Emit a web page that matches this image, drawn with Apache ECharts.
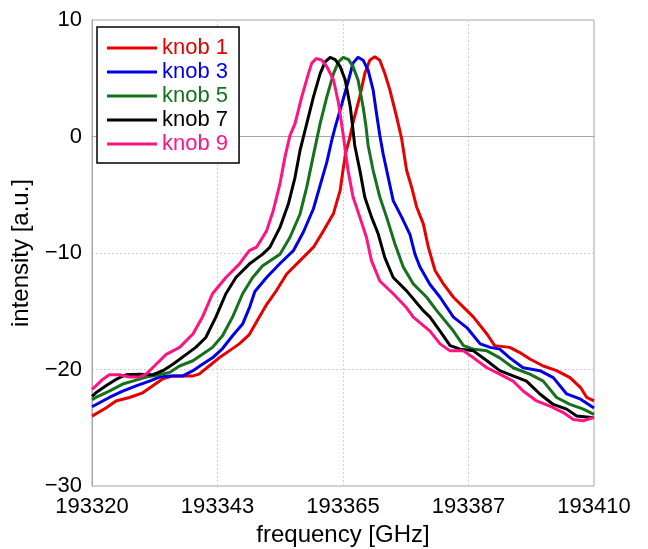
<!DOCTYPE html>
<html>
<head>
<meta charset="utf-8">
<script src="https://cdn.jsdelivr.net/npm/echarts@6/dist/echarts.min.js"></script>
<style>
  html, body { margin: 0; padding: 0; background: #fff; }
  #chart { width: 648px; height: 549px; }
</style>
</head>
<body>
<div id="chart"></div>
<script>
// axis setup
const xMin = 193320;
const xMax = 193410;
const xStep = 22.5;
const xTickLabels = ["193320", "193343", "193365", "193387", "193410"];
const yMin = -30;
const yMax = 10;
const yStep = 10;

const seriesNames = ["knob 1", "knob 3", "knob 5", "knob 7", "knob 9"];
const seriesColors = ["#e60000", "#0000e6", "#16701e", "#000000", "#ff1482"];

// [frequency GHz, intensity a.u.]
const knob1 = [
  [193320, -24.0], [193322.5, -23.3], [193324.3, -22.7], [193326.7, -22.4], [193329.1, -22.0],
  [193330.9, -21.4], [193332.7, -20.8], [193334.5, -20.55], [193336.3, -20.55], [193338.1, -20.55],
  [193339.2, -20.4], [193341.0, -19.7], [193342.8, -19.0], [193344.6, -18.4], [193346.4, -17.8],
  [193348.2, -17.0], [193350.0, -15.5], [193351.2, -14.5], [193353.1, -13.2], [193354.9, -11.8],
  [193357.3, -10.65], [193359.7, -9.5], [193361.5, -8.1], [193363.3, -6.6], [193364.5, -4.6],
  [193365.0, -2.9], [193365.5, -1.35], [193366.2, -0.15], [193366.8, 1.2], [193368.0, 3.4],
  [193368.9, 5.4], [193369.8, 6.55], [193370.7, 6.85], [193371.6, 6.55], [193372.5, 5.4],
  [193373.4, 4.0], [193374.6, 1.7], [193375.5, -0.15], [193376.4, -2.9], [193377.3, -4.35],
  [193378.2, -6.05], [193379.4, -7.5], [193380.3, -9.5], [193381.5, -11.5], [193383.0, -12.65],
  [193384.8, -13.8], [193386.9, -14.8], [193388.4, -15.5], [193390.8, -16.95], [193392.2, -17.95],
  [193394.9, -18.1], [193396.7, -18.55], [193398.5, -19.1], [193400.9, -19.7], [193403.3, -20.1],
  [193405.7, -20.7], [193407.6, -21.55], [193408.7, -22.4], [193410, -22.7]
];

const knob3 = [
  [193320, -23.2], [193323.1, -22.4], [193325.5, -21.85], [193327.9, -21.4], [193330.3, -21.0],
  [193332.1, -20.65], [193333.9, -20.55], [193336.3, -20.55], [193338.1, -20.1], [193339.8, -19.55],
  [193341.6, -19.0], [193343.4, -18.2], [193345.2, -17.1], [193347.0, -16.1], [193348.3, -14.6],
  [193349.2, -13.3], [193351.3, -12.1], [193353.7, -10.9], [193356.1, -9.8], [193357.9, -8.2],
  [193359.7, -6.2], [193360.9, -4.2], [193362.1, -2.2], [193363.0, -0.3], [193363.6, 0.8],
  [193364.8, 2.8], [193366.0, 4.85], [193366.8, 6.3], [193367.7, 6.8], [193368.6, 6.55],
  [193369.5, 5.7], [193370.4, 4.0], [193371.0, 2.0], [193371.6, 0.1], [193372.2, -1.5],
  [193373.1, -3.5], [193374.0, -5.5], [193375.5, -6.9], [193377.0, -8.4], [193377.9, -10.1],
  [193378.8, -11.2], [193380.6, -12.7], [193382.4, -13.8], [193384.8, -15.5], [193387.2, -16.4],
  [193389.6, -17.8], [193391.4, -18.1], [193393.1, -18.25], [193394.9, -19.0], [193397.3, -19.85],
  [193400.3, -20.1], [193402.7, -20.7], [193405.1, -22.1], [193407.6, -22.55], [193410, -23.3]
];

const knob5 = [
  [193320, -22.6], [193320.7, -22.4], [193323.1, -21.85], [193325.5, -21.25], [193327.3, -21.0],
  [193329.7, -20.65], [193332.1, -20.45], [193333.9, -20.25], [193335.7, -19.7], [193338.1, -19.25],
  [193339.8, -18.7], [193341.6, -18.1], [193343.4, -17.1], [193345.2, -15.5], [193347.0, -13.5],
  [193348.8, -12.1], [193350.6, -11.1], [193353.7, -10.1], [193355.5, -8.65], [193357.3, -6.65],
  [193358.5, -4.35], [193359.7, -1.6], [193360.9, 1.1], [193362.1, 3.4], [193363.3, 5.4],
  [193364.2, 6.4], [193365.05, 6.8], [193366.0, 6.6], [193366.8, 6.0], [193367.7, 4.85],
  [193368.6, 2.55], [193369.1, 0.95], [193369.5, -0.75], [193370.4, -2.9], [193371.6, -5.2],
  [193372.8, -6.9], [193374.3, -9.2], [193375.8, -11.2], [193377.6, -12.65], [193380.0, -13.8],
  [193381.8, -14.95], [193384.8, -16.7], [193386.6, -17.95], [193388.4, -18.25], [193390.8, -18.4],
  [193393.1, -19.0], [193395.5, -19.85], [193398.5, -20.4], [193400.9, -21.0], [193403.3, -22.4],
  [193405.7, -23.0], [193408.1, -23.4], [193410, -23.85]
];

const knob7 = [
  [193320, -22.3], [193320.7, -22.0], [193322.5, -21.4], [193324.3, -20.85], [193326.1, -20.45],
  [193328.5, -20.4], [193330.9, -20.45], [193332.7, -20.1], [193334.5, -19.55], [193336.9, -18.7],
  [193338.6, -18.1], [193340.4, -17.25], [193342.2, -15.5], [193344.0, -13.5], [193345.8, -12.1],
  [193348.2, -10.95], [193350.6, -10.1], [193351.9, -9.5], [193353.7, -7.8], [193355.2, -5.8],
  [193356.4, -3.5], [193357.3, -1.2], [193358.5, 1.1], [193359.7, 3.4], [193360.9, 5.4],
  [193361.8, 6.4], [193362.7, 6.8], [193363.6, 6.6], [193364.5, 6.0], [193365.4, 4.85],
  [193366.3, 2.55], [193366.7, 0.95], [193367.1, -0.75], [193368.1, -3.1], [193368.9, -5.2],
  [193370.1, -6.9], [193371.3, -8.35], [193372.5, -10.4], [193374.0, -12.1], [193376.4, -13.25],
  [193379.4, -14.95], [193380.6, -15.5], [193382.4, -16.7], [193384.2, -17.95], [193386.0, -18.25],
  [193388.4, -18.4], [193390.8, -19.25], [193393.1, -20.1], [193395.5, -20.55], [193397.9, -21.0],
  [193400.3, -22.1], [193402.7, -23.0], [193405.1, -23.4], [193406.9, -24.0], [193410, -24.15]
];

const knob9 = [
  [193320, -21.7], [193320.7, -21.4], [193321.9, -20.85], [193323.1, -20.45], [193324.9, -20.45],
  [193326.7, -20.65], [193328.5, -20.65], [193329.7, -20.4], [193331.5, -19.55], [193333.3, -18.7],
  [193335.7, -18.1], [193338.1, -16.95], [193339.8, -15.5], [193341.6, -13.5], [193344.0, -12.1],
  [193346.4, -10.95], [193348.2, -9.8], [193349.5, -9.5], [193351.3, -8.1], [193352.5, -6.35],
  [193353.7, -4.05], [193354.6, -1.75], [193355.5, 0.1], [193356.4, 1.1], [193357.6, 3.4],
  [193358.8, 5.4], [193359.4, 6.3], [193360.2, 6.7], [193361.2, 6.55], [193362.1, 6.0],
  [193363.3, 4.85], [193364.2, 2.85], [193365.05, 0.1], [193365.9, -2.9], [193366.8, -5.2],
  [193368.0, -6.9], [193369.2, -8.65], [193370.1, -10.65], [193371.6, -12.4], [193374.0, -13.5],
  [193376.4, -14.7], [193377.6, -15.5], [193380.6, -16.7], [193382.4, -17.8], [193384.2, -18.4],
  [193386.6, -18.4], [193388.4, -19.0], [193390.8, -19.85], [193393.1, -20.4], [193395.5, -21.0],
  [193397.3, -21.85], [193399.7, -22.7], [193402.1, -23.15], [193404.5, -23.7], [193406.3, -24.3],
  [193408.1, -24.4], [193410, -24.1]
];

const seriesData = [knob1, knob3, knob5, knob7, knob9];

const fontFamily = "Liberation Sans";

const chart = echarts.init(document.getElementById("chart"));

const option = {
  animation: false,
  backgroundColor: "#fff",
  grid: {
    left: 92,
    right: 54,
    top: 20,
    bottom: 63,
    outerBoundsMode: "none",
    show: true,
    borderColor: "#a8a8a8",
    borderWidth: 1
  },
  legend: {
    orient: "vertical",
    left: 97,
    top: 27,
    padding: [10, 11, 8, 10],
    itemWidth: 50,
    itemHeight: 3,
    itemGap: 2,
    icon: "rect",
    borderColor: "#000",
    borderWidth: 1.5,
    backgroundColor: "#fff",
    textStyle: { fontSize: 22, fontFamily: fontFamily, lineHeight: 22 },
    data: seriesNames.map((n, i) => ({ name: n, textStyle: { color: seriesColors[i] } }))
  },
  xAxis: {
    type: "value",
    min: xMin,
    max: xMax,
    interval: xStep,
    name: "frequency [GHz]",
    nameLocation: "middle",
    nameGap: 36,
    nameTextStyle: { fontSize: 24, color: "#000", fontFamily: fontFamily },
    axisLine: { show: true, lineStyle: { color: "#a8a8a8" } },
    axisTick: { show: false },
    axisLabel: {
      fontSize: 22,
      color: "#000",
      fontFamily: fontFamily,
      margin: 10,
      formatter: (v) => xTickLabels[Math.round((v - xMin) / xStep)]
    },
    splitLine: { show: true, lineStyle: { color: "#cfcfcf", type: [2, 2] } }
  },
  yAxis: {
    type: "value",
    min: yMin,
    max: yMax,
    interval: yStep,
    name: "intensity [a.u.]",
    nameLocation: "middle",
    nameGap: 52,
    nameTextStyle: { fontSize: 24, color: "#000", fontFamily: fontFamily },
    axisLine: { show: true, lineStyle: { color: "#a8a8a8" } },
    axisTick: { show: false },
    axisLabel: {
      fontSize: 22,
      color: "#000",
      fontFamily: fontFamily,
      margin: 10,
      formatter: (v) => String(v).replace("-", "\u2212")
    },
    splitLine: { show: true, lineStyle: { color: "#cfcfcf", type: [2, 2] } }
  },
  series: seriesData.map((d, i) => ({
    name: seriesNames[i],
    type: "line",
    data: d,
    showSymbol: false,
    symbol: "none",
    color: seriesColors[i],
    lineStyle: { width: 3, color: seriesColors[i] }
  }))
};

chart.setOption(option);
</script>
</body>
</html>
